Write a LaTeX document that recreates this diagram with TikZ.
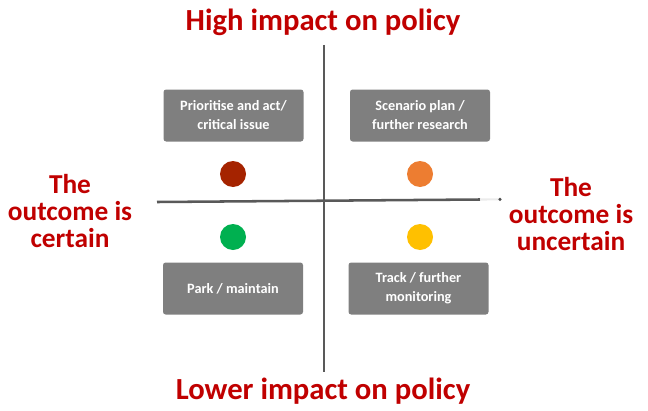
\documentclass[tikz,border=0pt]{standalone}
\usepackage{fontspec}
\setmainfont{Carlito}
\definecolor{axisgray}{HTML}{595959}
\definecolor{boxgray}{HTML}{7F7F7F}
\definecolor{titlered}{HTML}{C00000}
\definecolor{dotred}{HTML}{A52300}
\definecolor{dotorange}{HTML}{ED7D31}
\definecolor{dotgreen}{HTML}{00B050}
\definecolor{dotyellow}{HTML}{FFC000}
\begin{document}
\begin{tikzpicture}[x=0.75pt,y=-0.75pt,
  axis/.style={draw=axisgray,line width=1.9pt},
  quad/.style={fill=boxgray,rounded corners=2pt,minimum width=105pt,minimum height=39pt,
    text=white,font=\bfseries\fontsize{10.7}{14.3}\selectfont,align=center,inner sep=0pt},
  headline/.style={text=titlered,font=\bfseries\fontsize{23}{27}\selectfont},
  side/.style={text=titlered,font=\bfseries\fontsize{20.5}{20.3}\selectfont,align=center},
  dot/.style={circle,minimum size=19.5pt,inner sep=0pt}]
\useasboundingbox (0,0) rectangle (648,410);
% axes
\coordinate (vtop) at (324,45);
\coordinate (vbot) at (324,372);
\coordinate (hl) at (157,202);
\coordinate (hr) at (480,199.5);
\coordinate (hend) at (500,199.3);
\draw[axis] (vtop) -- (vbot);
\draw[axis] (hl) -- (hr);
\draw[draw=black!8,line width=1.6pt] (hr) -- (hend);
\fill[black!70] (hend) circle (1.3pt);
% titles
\node[headline] (hi) at (323,22) {High impact on policy};
\node[headline] (lo) at (323,391) {Lower impact on policy};
\node[side] (cert) at (70,211) {The\\outcome is\\certain};
\node[side] (unc) at (571,214) {The\\outcome is\\uncertain};
% boxes
\node[quad] (b1) at (233.5,115.5) {Prioritise and act/\\critical issue};
\node[quad] (b2) at (420,115.5) {Scenario plan /\\further research};
\node[quad] (b3) at (233,288.5) {Park / maintain};
\node[quad] (b4) at (418.5,288.5) {Track / further\\monitoring};
% dots
\node[dot,fill=dotred] (d1) at (233,174) {};
\node[dot,fill=dotorange] (d2) at (420,174) {};
\node[dot,fill=dotgreen] (d3) at (233,237) {};
\node[dot,fill=dotyellow] (d4) at (420,237) {};
\end{tikzpicture}
\end{document}
